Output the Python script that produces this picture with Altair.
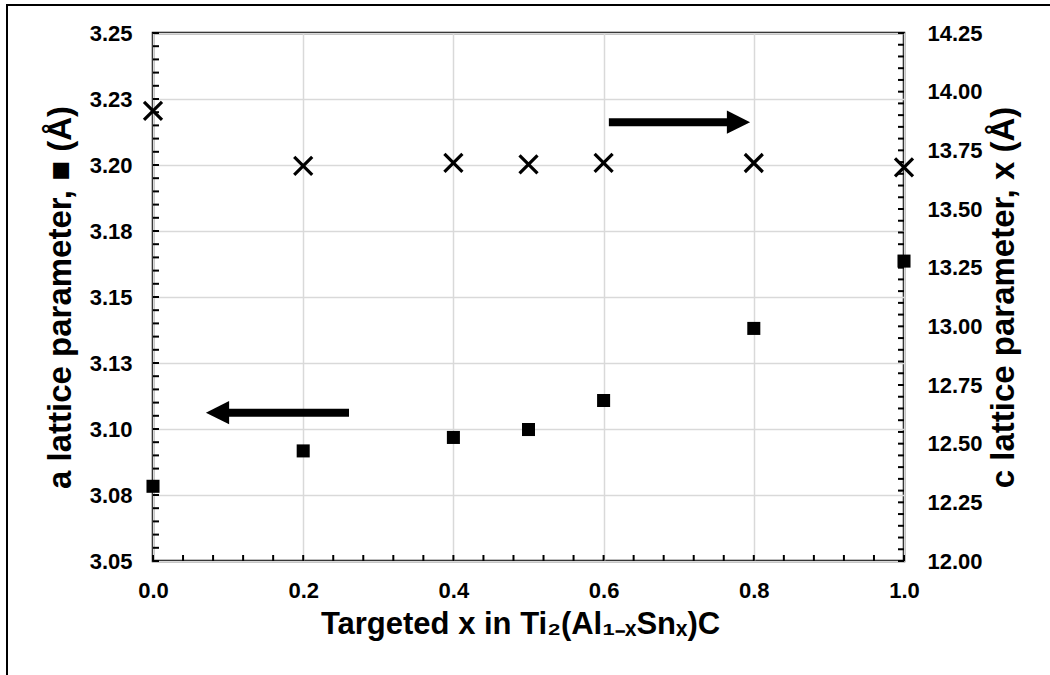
import altair as alt
import pandas as pd

FONT = "Liberation Sans"

# ---- data ----
x_targeted = [0.0, 0.2, 0.4, 0.5, 0.6, 0.8, 1.0]
a_lattice = [3.0783, 3.0917, 3.0968, 3.0998, 3.1108, 3.1381, 3.1636]
c_lattice = [13.918, 13.684, 13.697, 13.690, 13.697, 13.696, 13.677]

# axis tick values
x_major = [0.0, 0.2, 0.4, 0.6, 0.8, 1.0]
a_major = [3.05, 3.075, 3.10, 3.125, 3.15, 3.175, 3.20, 3.225, 3.25]
c_major = [12.00, 12.25, 12.50, 12.75, 13.00, 13.25, 13.50, 13.75, 14.00, 14.25]
x_minor = [round(i * 0.04, 4) for i in range(26)]
a_minor = [round(3.05 + i * 0.005, 4) for i in range(41)]
c_minor = [round(12.0 + i * 0.05, 4) for i in range(46)]

# arrow annotations (data units)
left_arrow_shaft_x = [0.101, 0.261]
left_arrow_head_x = [0.0859]
left_arrow_y = [3.1062]
right_arrow_shaft_x = [0.607, 0.770]
right_arrow_head_x = [0.7796]
right_arrow_y = [13.87]

W, H = 751, 528

x_scale = alt.Scale(domain=[0, 1], nice=False, zero=False)
a_scale = alt.Scale(domain=[3.05, 3.25], nice=False, zero=False)
c_scale = alt.Scale(domain=[12.0, 14.25], nice=False, zero=False)

pts = pd.DataFrame({"x": x_targeted, "a": a_lattice, "c": c_lattice})

common = dict(
    labelFont=FONT, labelFontSize=22, labelFontWeight="bold", labelColor="black",
    titleFont=FONT, titleFontWeight="bold", titleColor="black",
    domain=False, ticks=False,
)

x_axis = alt.Axis(
    values=x_major, format=".1f", title="Targeted x in Ti₂(Al₁₋ₓSnₓ)C",
    grid=True, gridColor="#d9d9d9", gridWidth=1.5, labelFlush=False,
    titleFontSize=31, titleX=367, labelPadding=19, titlePadding=8, **common,
)
a_axis = alt.Axis(
    values=a_major, labelExpr="format(datum.value + 0.000001, '.2f')",
    title="a lattice parameter, ■ (Å)", orient="left",
    grid=True, gridColor="#d9d9d9", gridWidth=1.5,
    titleFontSize=33, labelPadding=21, titlePadding=12, **common,
)
c_axis = alt.Axis(
    values=c_major, format=".2f",
    title="c lattice parameter, x (Å)", orient="right",
    titleAngle=270, titleBaseline="top",
    grid=False, titleFontSize=33, labelPadding=23, titlePadding=5, **common,
)

squares = alt.Chart(pts).mark_square(size=170, color="black", opacity=1).encode(
    x=alt.X("x:Q", scale=x_scale, axis=x_axis),
    y=alt.Y("a:Q", scale=a_scale, axis=a_axis),
)

crosses = alt.Chart(pts).mark_point(
    shape="M-1,-1L1,1M-1,1L1,-1", size=324, filled=False, color="black",
    strokeWidth=3.2, opacity=1
).encode(
    x=alt.X("x:Q", scale=x_scale, axis=x_axis),
    y=alt.Y("c:Q", scale=c_scale, axis=c_axis),
)

left_ticks = alt.Chart(pd.DataFrame({"v": a_minor})).mark_rule(
    color="black", strokeWidth=2
).encode(
    y=alt.Y("v:Q", scale=a_scale, axis=None), x=alt.value(0), x2=alt.value(6)
)
right_ticks = alt.Chart(pd.DataFrame({"v": c_minor})).mark_rule(
    color="black", strokeWidth=2
).encode(
    y=alt.Y("v:Q", scale=c_scale, axis=None), x=alt.value(W - 6), x2=alt.value(W)
)
bottom_ticks = alt.Chart(pd.DataFrame({"v": x_minor})).mark_rule(
    color="black", strokeWidth=2
).encode(
    x=alt.X("v:Q", scale=x_scale, axis=x_axis), y=alt.value(H), y2=alt.value(H - 6)
)

la_shaft = alt.Chart(pd.DataFrame({"x1": [left_arrow_shaft_x[0]], "x2": [left_arrow_shaft_x[1]], "y": left_arrow_y})).mark_rule(
    color="black", strokeWidth=8
).encode(
    x=alt.X("x1:Q", scale=x_scale, axis=x_axis), x2="x2:Q",
    y=alt.Y("y:Q", scale=a_scale, axis=None),
)
la_head = alt.Chart(pd.DataFrame({"x": left_arrow_head_x, "y": left_arrow_y})).mark_point(
    shape="M1,-1L-1,0L1,1Z", size=540, filled=True, color="black", opacity=1
).encode(
    x=alt.X("x:Q", scale=x_scale, axis=x_axis),
    y=alt.Y("y:Q", scale=a_scale, axis=None),
)
ra_shaft = alt.Chart(pd.DataFrame({"x1": [right_arrow_shaft_x[0]], "x2": [right_arrow_shaft_x[1]], "y": right_arrow_y})).mark_rule(
    color="black", strokeWidth=8
).encode(
    x=alt.X("x1:Q", scale=x_scale, axis=x_axis), x2="x2:Q",
    y=alt.Y("y:Q", scale=c_scale, axis=None),
)
ra_head = alt.Chart(pd.DataFrame({"x": right_arrow_head_x, "y": right_arrow_y})).mark_point(
    shape="M-1,-1L1,0L-1,1Z", size=540, filled=True, color="black", opacity=1
).encode(
    x=alt.X("x:Q", scale=x_scale, axis=x_axis),
    y=alt.Y("y:Q", scale=c_scale, axis=None),
)

frame = alt.Chart(pd.DataFrame({"d": [0]})).mark_rect(
    fill="transparent", stroke="black", strokeWidth=2
).encode(
    x=alt.value(-146), x2=alt.value(W + 150), y=alt.value(-28), y2=alt.value(H + 150)
)

chart = alt.layer(
    squares, crosses, left_ticks, right_ticks, bottom_ticks,
    la_shaft, la_head, ra_shaft, ra_head, frame
).resolve_scale(y="independent").properties(
    width=W, height=H,
    padding={"left": 153, "top": 33, "right": 146, "bottom": 114},
    autosize=alt.AutoSizeParams(type="none"),
    background="white",
).configure_view(stroke="black", strokeWidth=2.5)

chart.save("out.html", embed_options={"renderer": "svg", "actions": False})
